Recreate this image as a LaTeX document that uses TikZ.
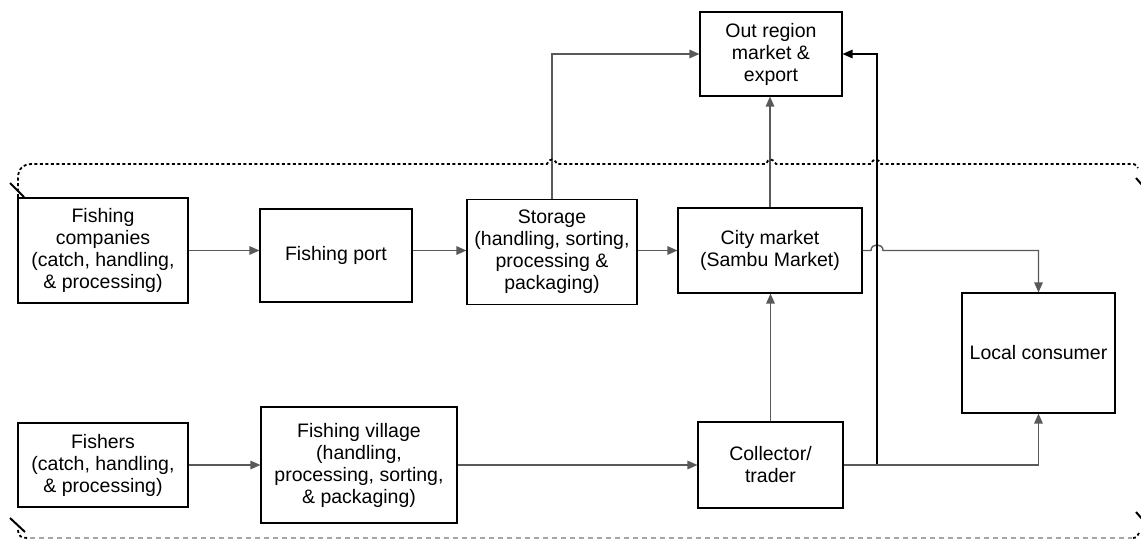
\documentclass[tikz,border=0pt]{standalone}
\usepackage{fontspec}
\setmainfont{Liberation Sans}
\usetikzlibrary{arrows.meta}
\begin{document}
\begin{tikzpicture}[x=1pt,y=-1pt,
  box/.style={draw=black, line width=1.1pt, align=center, inner sep=0pt,
    font=\fontsize{19.5}{22}\selectfont},
  conn/.style={draw=black!65, line width=1.4pt, -{Triangle[length=10pt,width=8.5pt]}},
  connk/.style={conn, draw=black},
  frametop/.style={draw=black, line width=1.8pt, dash pattern=on 3pt off 2.5pt},
  framebot/.style={draw=black!35, line width=1.3pt, dash pattern=on 5pt off 4pt},
  brk/.style={draw=black, line width=2pt}]
\useasboundingbox (0,0) rectangle (1141,541);

\node[box, minimum width=170pt, minimum height=105pt] (fc) at (103,250.5)
  {Fishing\\companies\\(catch, handling,\\\& processing)};
\node[box, minimum width=152pt, minimum height=93pt] (fp) at (336,255.5) {Fishing port};
\node[box, minimum width=170pt, minimum height=105pt] (st) at (552,252)
  {Storage\\(handling, sorting,\\processing \&\\packaging)};
\node[box, minimum width=184pt, minimum height=85pt] (city) at (770,250.5)
  {City market\\(Sambu Market)};
\node[box, minimum width=142pt, minimum height=84pt] (out) at (771,54)
  {Out region\\market \&\\export};
\node[box, minimum width=153pt, minimum height=120pt] (lc) at (1038.5,353) {Local consumer};
\node[box, minimum width=170pt, minimum height=84pt] (fish) at (103,465)
  {Fishers\\(catch, handling,\\\& processing)};
\node[box, minimum width=196pt, minimum height=116pt] (vil) at (359,465)
  {Fishing village\\(handling,\\processing, sorting,\\\& packaging)};
\node[box, minimum width=145pt, minimum height=86pt] (col) at (770.5,465) {Collector/\\trader};

\coordinate (j) at (877,465);
\coordinate (hopL) at (871,250.5);
\coordinate (hopR) at (883,250.5);

% connectors
\draw[conn] (fc.east) -- (fc.east -| fp.west);
\draw[conn] (fp.east |- fc.east) -- (fc.east -| st.west);
\draw[conn] (st.east |- city.west) -- (city.west);
\draw[conn] (st.north) |- (out.west);
\draw[conn] (city.north) -- (city.north |- out.south);
\draw[conn] (col.north) -- (col.north |- city.south);
\draw[conn] (city.east) -- (hopL) .. controls (871,243) and (883,243) .. (hopR) -| (lc.north);
\draw[connk] (col.east) -- (j) |- (out.east);
\draw[conn] (col.east) -| (lc.south);
\draw[conn] (fish.east) -- (fish.east -| vil.west);
\draw[conn] (vil.east) -- (vil.east -| col.west);

% boundary frame
\draw[frametop] (18,197) -- (18,178) .. controls (18,169) and (23,164) .. (32,164)
  -- (547,164) .. controls (549,158) and (554,158) .. (557,164)
  -- (766,164) .. controls (768,158) and (773,158) .. (776,164)
  -- (871,164) .. controls (873,158) and (878,158) .. (881,164)
  -- (1131,164) .. controls (1135,164) .. (1138,168);
\draw[frametop] (18,530) .. controls (18,536) and (21,538) .. (28,538);
\draw[framebot] (30,538) -- (1132,538);
\draw[frametop] (1133,538) .. controls (1136,538) .. (1139,533);
\draw[brk] (10,183) -- (24,197);
\draw[brk] (10,518) -- (25,532);
\draw[brk] (1136,178) -- (1143,186);
\draw[brk] (1136,512) -- (1143,520);
\end{tikzpicture}
\end{document}
